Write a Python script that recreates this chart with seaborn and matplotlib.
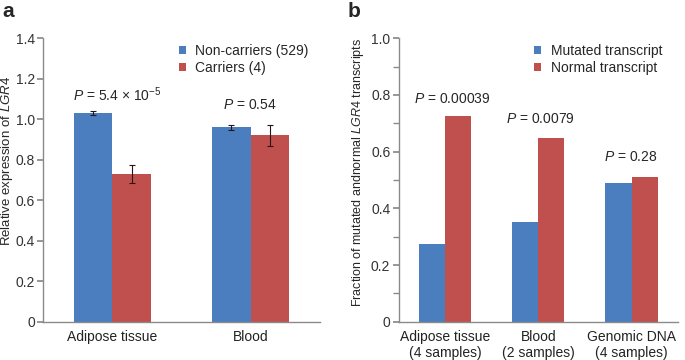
import numpy as np
import pandas as pd
import matplotlib
matplotlib.use("Agg")
import matplotlib.pyplot as plt
import seaborn as sns

# panel a data
a_tissues = ["Adipose tissue", "Blood"]
a_groups = ["Non-carriers (529)", "Carriers (4)"]
a_noncarrier = [1.03, 0.96]
a_carrier = [0.73, 0.92]
a_noncarrier_err = [0.01, 0.012]
a_carrier_err = [0.045, 0.05]
a_pvals = [r"$P$ = 5.4 $\times$ 10$^{-5}$", r"$P$ = 0.54"]
a_pval_y = [1.12, 1.07]

# panel b data
b_samples = ["Adipose tissue\n(4 samples)", "Blood\n(2 samples)", "Genomic DNA\n(4 samples)"]
b_groups = ["Mutated transcript", "Normal transcript"]
b_mutated = [0.275, 0.352, 0.49]
b_normal = [0.725, 0.648, 0.51]
b_pvals = [r"$P$ = 0.00039", r"$P$ = 0.0079", r"$P$ = 0.28"]
b_pval_y = [0.785, 0.715, 0.58]

colors = ["#4a7ebf", "#c0504d"]
axis_grey = "#8a8a8a"

sns.set_theme(style="white")
plt.rcParams["font.family"] = ["Liberation Sans", "DejaVu Sans"]
plt.rcParams["mathtext.fontset"] = "custom"
plt.rcParams["mathtext.it"] = "Liberation Sans:italic"
plt.rcParams["mathtext.rm"] = "Liberation Sans"

df_a = pd.DataFrame({
    "tissue": a_tissues * 2,
    "group": [a_groups[0]] * 2 + [a_groups[1]] * 2,
    "value": a_noncarrier + a_carrier,
    "err": a_noncarrier_err + a_carrier_err,
})
df_b = pd.DataFrame({
    "sample": b_samples * 2,
    "group": [b_groups[0]] * 3 + [b_groups[1]] * 3,
    "value": b_mutated + b_normal,
})

fig = plt.figure(figsize=(6.85, 3.6), dpi=100)
ax1 = fig.add_axes([0.063, 0.106, 0.404, 0.788])
ax2 = fig.add_axes([0.582, 0.106, 0.408, 0.788])


def style_axis(ax, n):
    for s in ["top", "right"]:
        ax.spines[s].set_visible(False)
    for s in ["left", "bottom"]:
        ax.spines[s].set_color(axis_grey)
        ax.spines[s].set_linewidth(1.0)
    ax.set_xlim(-0.5, n - 0.5)
    ax.tick_params(axis="x", which="major", length=0, labelsize=10, pad=6, colors="#222222")
    ax.set_xticks(np.arange(-0.5, n), minor=True)
    ax.tick_params(axis="x", which="minor", length=4, color=axis_grey, direction="out")
    ax.tick_params(axis="y", which="both", length=4, color=axis_grey, direction="out",
                   left=True, labelsize=10, labelcolor="#333333", pad=2)
    ax.set_xlabel("")


bar_kw = dict(width=0.56, gap=0, errorbar=None, saturation=1, linewidth=0, edgecolor="none")
leg_kw = dict(frameon=False, loc="upper left", fontsize=10, handlelength=0.5, handleheight=0.5,
              handletextpad=0.7, labelspacing=0.25, borderaxespad=0.0)

# panel a
sns.barplot(data=df_a, x="tissue", y="value", hue="group", palette=colors, ax=ax1, **bar_kw)
for bar, e in zip(ax1.patches[:4], df_a["err"]):
    ax1.errorbar(bar.get_x() + bar.get_width() / 2, bar.get_height(), yerr=e,
                 fmt="none", ecolor="#2a1414", elinewidth=0.8, capsize=2.5, capthick=0.8)
style_axis(ax1, 2)
ax1.set_ylim(0, 1.4)
ax1.set_yticks(np.arange(0, 1.41, 0.2))
ax1.set_yticklabels(["0"] + [f"{v:.1f}" for v in np.arange(0.2, 1.41, 0.2)])
ax1.set_ylabel(r"Relative expression of $LGR4$", fontsize=9.5)
ax1.yaxis.set_label_coords(-0.1, 0.567)
for i, (t, y, dx) in enumerate(zip(a_pvals, a_pval_y, [0.035, -0.007])):
    ax1.text(i + dx, y, t, ha="center", va="center", fontsize=10)
ax1.legend(bbox_to_anchor=(0.47, 1.0), **leg_kw)

# panel b
sns.barplot(data=df_b, x="sample", y="value", hue="group", palette=colors, ax=ax2, **bar_kw)
style_axis(ax2, 3)
ax2.set_ylim(0, 1.0)
ax2.set_yticks(np.arange(0, 1.01, 0.2))
ax2.set_yticklabels(["0"] + [f"{v:.1f}" for v in np.arange(0.2, 1.01, 0.2)])
ax2.set_yticks(np.arange(0.1, 1.0, 0.2), minor=True)
ax2.set_ylabel(r"Fraction of mutated andnormal $LGR4$ transcripts", fontsize=9)
ax2.yaxis.set_label_coords(-0.118, 0.528)
for i, (t, y, dx) in enumerate(zip(b_pvals, b_pval_y, [0.08, 0.02, -0.01])):
    ax2.text(i + dx, y, t, ha="center", va="center", fontsize=10)
ax2.legend(bbox_to_anchor=(0.465, 1.0), **leg_kw)

fig.text(0.003, 0.995, "a", fontsize=15, fontweight="bold", va="top", ha="left")
fig.text(0.508, 0.995, "b", fontsize=15, fontweight="bold", va="top", ha="left")

fig.savefig("out.png", dpi=100)
